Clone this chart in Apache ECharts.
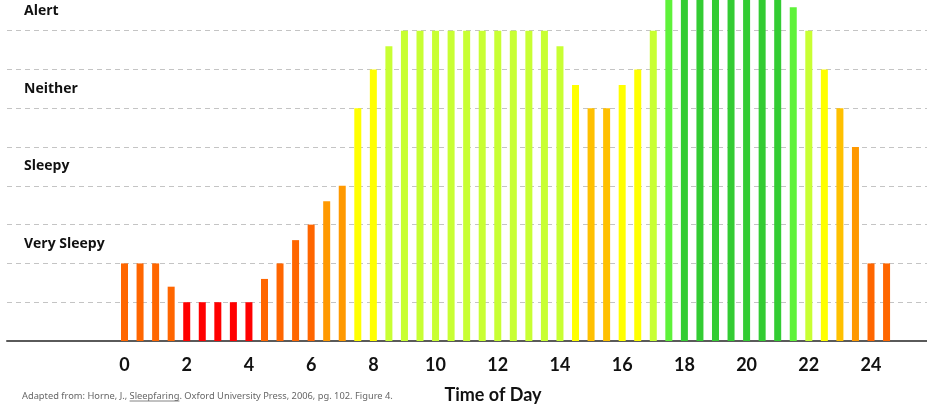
<!DOCTYPE html>
<html><head><meta charset="utf-8">
<script src="https://cdn.jsdelivr.net/npm/echarts@6/dist/echarts.min.js"></script>
<style>html,body{margin:0;padding:0;background:#fff}#c{width:927px;height:406px}</style>
</head><body><div id="c"></div>
<script>
// ---- data ----
const hours = [0,0.5,1,1.5,2,2.5,3,3.5,4,4.5,5,5.5,6,6.5,7,7.5,8,8.5,9,9.5,10,10.5,11,11.5,12,12.5,13,13.5,14,14.5,15,15.5,16,16.5,17,17.5,18,18.5,19,19.5,20,20.5,21,21.5,22,22.5,23,23.5,24,24.5];
const alertness = [2,2,2,1.4,1,1,1,1,1,1.6,2,2.6,3,3.6,4,6,7,7.6,8,8,8,8,8,8,8,8,8,8,7.6,6.6,6,6,6.6,7,8,9,9,9,9,9,9,9,9,8.6,8,7,6,5,2,2];
const barTones = ['orangeRed','orangeRed','orangeRed','orangeRed','red','red','red','red','red','orangeRed','orangeRed','orangeRed','orangeRed','orange','orange','yellow','yellow','lime','lime','lime','lime','lime','lime','lime','lime','lime','lime','lime','lime','yellow','amber','amber','yellow','yellow','lime','brightGreen','green','green','green','green','green','green','green','brightGreen','lime','yellow','amber','orange','orangeRed','orangeRed'];
const tickHours = [0,2,4,6,8,10,12,14,16,18,20,22,24];
const levelNames = ['Very Sleepy','Sleepy','Neither','Alert'];
const levelValues = [2.5,4.5,6.5,8.5];
const axisTitle = 'Time of Day';
const notePrefix = 'Adapted from: Horne, J., ';
const noteBook = 'Sleepfaring';
const noteSuffix = '. Oxford University Press, 2006, pg. 102. Figure 4.';

// ---- styles ----
const palette = {
  red:'#FF0000', orangeRed:'#FF6600', orange:'#FF9900', amber:'#FFC000',
  yellow:'#FFFF00', lime:'#C8FF33', brightGreen:'#5EF23A', green:'#33CC33'
};
const FONT = 'Lato, "Open Sans", sans-serif';
const LABEL_FONT = '"Open Sans", Lato, sans-serif';

const chart = echarts.init(document.getElementById('c'), null, {renderer:'canvas'});

const noteFont = '9.3px "Noto Sans", sans-serif';
const cv = document.createElement('canvas').getContext('2d');
cv.font = noteFont;
const wPrefix = cv.measureText(notePrefix).width;
const wBook = cv.measureText(noteBook).width;
const noteX = 22, noteY = 396;

chart.setOption({
  animation:false,
  backgroundColor:'#fff',
  grid:{left:7, right:0, top:0, bottom:65, containLabel:false},
  xAxis:{
    type:'value', min:-3.778, max:25.8,
    axisLine:{show:true, onZero:false, lineStyle:{color:'#5a5a5a', width:2}},
    axisTick:{show:false},
    splitLine:{show:false},
    axisLabel:{customValues:tickHours, formatter:v=>String(v), color:'#111', fontWeight:'bold',
      fontSize:18, fontFamily:FONT, margin:15}
  },
  yAxis:{
    type:'value', min:0, max:8.79, interval:1,
    axisLine:{show:false}, axisTick:{show:false},
    splitLine:{show:true, showMaxLine:false, showMinLine:false, lineStyle:{color:'#c4c4c4', type:[5,4], width:1}},
    axisLabel:{customValues:levelValues, inside:true, margin:17,
      formatter:v=>levelNames[levelValues.indexOf(v)] || '',
      color:'#111', fontWeight:'bold', fontSize:14, fontFamily:LABEL_FONT, align:'left', verticalAlign:'middle'}
  },
  series:[{
    type:'bar', barWidth:7, clip:true,
    data:hours.map((h,i)=>({value:[h, alertness[i]], itemStyle:{color:palette[barTones[i]]}}))
  }],
  graphic:[
    {type:'text', x:493, y:395, style:{text:axisTitle, fill:'#111', font:'bold 18px '+FONT, textAlign:'center', textVerticalAlign:'middle'}},
    {type:'text', x:noteX, y:noteY, style:{text:notePrefix+noteBook+noteSuffix, fill:'#666', font:noteFont, textAlign:'left', textVerticalAlign:'middle'}},
    {type:'line', shape:{x1:noteX+wPrefix, y1:noteY+5, x2:noteX+wPrefix+wBook, y2:noteY+5}, style:{stroke:'#666', lineWidth:0.8}}
  ]
});
</script></body></html>
